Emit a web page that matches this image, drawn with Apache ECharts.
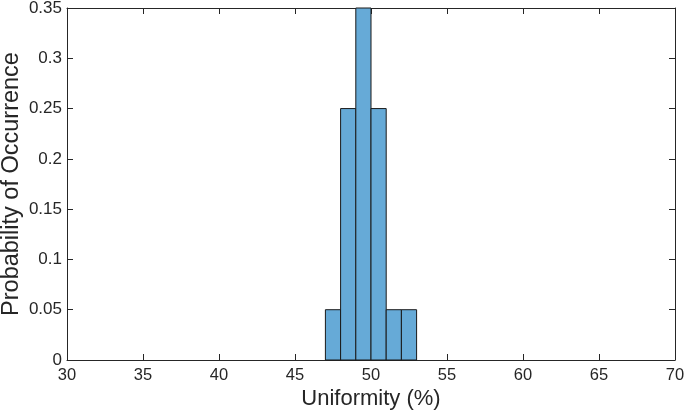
<!DOCTYPE html>
<html><head><meta charset="utf-8">
<script src="https://cdn.jsdelivr.net/npm/echarts@6/dist/echarts.min.js"></script>
<style>html,body{margin:0;padding:0;background:#fff}#c{width:685px;height:414px}</style>
</head><body><div id="c"></div>
<script>
const binStarts = [47, 48, 49, 50, 51, 52];
const binEnds = [48, 49, 50, 51, 52, 53];
const probabilities = [0.05, 0.25, 0.35, 0.25, 0.05, 0.05];
const xTicks = [30, 35, 40, 45, 50, 55, 60, 65, 70];
const yTicks = [0, 0.05, 0.1, 0.15, 0.2, 0.25, 0.3, 0.35];

const data = binStarts.map((s, i) => [s, binEnds[i], probabilities[i]]);
const font = 'Liberation Sans, Arial, Helvetica, sans-serif';
const axisCol = '#262626';
const chart = echarts.init(document.getElementById('c'), null, {renderer: 'canvas'});
const commonX = {
  type: 'value', min: 30, max: 70, interval: 5,
  axisLine: {show: true, onZero: false, lineStyle: {color: axisCol, width: 1}},
  axisTick: {show: true, inside: true, length: 6, lineStyle: {color: axisCol}},
  splitLine: {show: false}
};
const commonY = {
  type: 'value', min: 0, max: 0.35, interval: 0.05,
  axisLine: {show: true, onZero: false, lineStyle: {color: axisCol, width: 1}},
  axisTick: {show: true, inside: true, length: 6, lineStyle: {color: axisCol}},
  splitLine: {show: false}
};
chart.setOption({
  animation: false,
  grid: {left: 67, right: 10, top: 8, bottom: 54, containLabel: false, outerBoundsMode: 'none'},
  xAxis: [
    Object.assign({}, commonX, {
      position: 'bottom',
      name: 'Uniformity (%)', nameLocation: 'middle', nameGap: 28, nameMoveOverlap: false,
      nameTextStyle: {fontFamily: font, fontSize: 22, color: axisCol},
      axisLabel: {fontFamily: font, fontSize: 16.5, color: axisCol, margin: 7,
        formatter: v => xTicks.includes(v) ? String(v) : ''}
    }),
    Object.assign({}, commonX, {position: 'top', axisLabel: {show: false}})
  ],
  yAxis: [
    Object.assign({}, commonY, {
      position: 'left',
      name: 'Probability of Occurrence', nameLocation: 'middle', nameGap: 43, nameMoveOverlap: false,
      nameTextStyle: {fontFamily: font, fontSize: 23.5, color: axisCol},
      axisLabel: {fontFamily: font, fontSize: 17, color: axisCol, margin: 5,
        formatter: v => { const t = yTicks.find(y => Math.abs(y - v) < 1e-9); return t === undefined ? '' : String(+t.toFixed(2)); }}
    }),
    Object.assign({}, commonY, {position: 'right', axisLabel: {show: false}})
  ],
  series: [{
    type: 'custom',
    xAxisIndex: 0, yAxisIndex: 0,
    data: data,
    renderItem: function (params, api) {
      const p0 = api.coord([api.value(0), api.value(2)]);
      const p1 = api.coord([api.value(1), 0]);
      return {
        type: 'rect',
        shape: {x: p0[0], y: p0[1], width: p1[0] - p0[0], height: p1[1] - p0[1]},
        style: {fill: '#66AAD7', stroke: '#1a1a1a', lineWidth: 1}
      };
    }
  }]
});
</script></body></html>
